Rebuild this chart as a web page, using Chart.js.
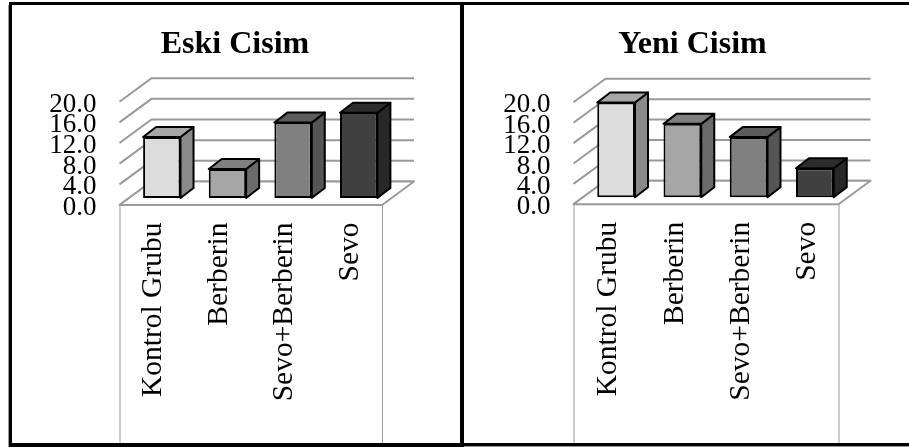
<!DOCTYPE html>
<html>
<head>
<meta charset="utf-8">
<title>Eski Cisim / Yeni Cisim</title>
<script src="https://cdn.jsdelivr.net/npm/chart.js@4/dist/chart.umd.js"></script>
<style>
  html, body { margin: 0; padding: 0; background: #fff; }
  body { width: 909px; height: 447px; position: relative; overflow: hidden; }
  canvas { position: absolute; top: 0; }
  .rule { position: absolute; background: #000; }
</style>
</head>
<body>
<canvas id="eski" style="left:0"></canvas>
<canvas id="yeni" style="left:464px"></canvas>
<div class="rule" style="left:9px;top:2px;width:900px;height:3px"></div>
<div class="rule" style="left:9px;top:2px;width:3px;height:445px"></div>
<div class="rule" style="left:8px;top:5px;width:1px;height:442px;background:#999"></div>
<div class="rule" style="left:460px;top:2px;width:4px;height:445px"></div>
<div class="rule" style="left:9px;top:443px;width:455px;height:4px"></div>
<div class="rule" style="left:464px;top:443px;width:445px;height:3px"></div>
<div class="rule" style="left:464px;top:446px;width:445px;height:1px;background:#999"></div>
<script>
// Category and tick labels
const categoriesEski = ["Kontrol Grubu", "Berberin", "Sevo+Berberin", "Sevo"];
const categoriesYeni = ["Kontrol Grubu", "Berberin", "Sevo+Berberin", "Sevo"];

// Series values
const valuesEski = [11.8, 5.6, 14.6, 16.5];
const valuesYeni = [18.6, 14.4, 11.8, 5.7];

// Fill tones for the three visible faces of each column
const frontColors = ["#dcdcdc", "#a6a6a6", "#808080", "#404040"];
const sideColors  = ["#8a8a8a", "#6b6b6b", "#555555", "#282828"];
const topColors   = ["#a6a6a6", "#808080", "#5c5c5c", "#2c2c2c"];

const GRID = "#9a9a9a";
const SERIF = "'Liberation Serif', 'Times New Roman', serif";

// Oblique projection: the wall/floor depth, and the inset and depth of the columns
const DEPTH = { dx: 32, dy: -23.5 };
const BAR_INSET = { dx: 9.5, dy: -7 };
const BAR_DEPTH = { dx: 13, dy: -10 };

function poly(ctx, pts, fill, stroke, lw) {
  ctx.beginPath();
  pts.forEach((p, i) => i ? ctx.lineTo(p[0], p[1]) : ctx.moveTo(p[0], p[1]));
  ctx.closePath();
  if (fill) { ctx.fillStyle = fill; ctx.fill(); }
  if (stroke) { ctx.strokeStyle = stroke; ctx.lineWidth = lw; ctx.lineJoin = "round"; ctx.stroke(); }
}

// Draws the wall, floor and column sides behind the bars the library renders
const box3d = {
  id: "box3d",
  beforeDatasetsDraw(chart) {
    const { ctx, chartArea: a, scales: { y } } = chart;
    ctx.save();
    ctx.strokeStyle = GRID;
    ctx.lineWidth = 2;
    y.ticks.forEach(t => {
      const py = y.getPixelForValue(t.value);
      ctx.beginPath();
      ctx.moveTo(a.left, py);
      ctx.lineTo(a.left + DEPTH.dx, py + DEPTH.dy);
      ctx.lineTo(a.right + DEPTH.dx, py + DEPTH.dy);
      ctx.stroke();
    });
    // floor outline and the frame lines dropping below it
    poly(ctx, [
      [a.left, a.bottom],
      [a.left + DEPTH.dx, a.bottom + DEPTH.dy],
      [a.right + DEPTH.dx, a.bottom + DEPTH.dy],
      [a.right, a.bottom]
    ], "#ffffff", GRID, 2);
    ctx.lineWidth = 1;
    [a.left, a.right].forEach(x => {
      ctx.beginPath();
      ctx.moveTo(x + 0.5, a.bottom);
      ctx.lineTo(x + 0.5, chart.height);
      ctx.stroke();
    });
    ctx.restore();

    // the library's bars are shifted back onto the floor until afterDatasetsDraw
    ctx.save();
    ctx.translate(BAR_INSET.dx, BAR_INSET.dy);
    chart.getDatasetMeta(0).data.forEach((bar, i) => {
      const l = bar.x - bar.width / 2, r = bar.x + bar.width / 2;
      const t = bar.y, b = bar.base;
      const { dx, dy } = BAR_DEPTH;
      poly(ctx, [[r, t], [r + dx, t + dy], [r + dx, b + dy], [r, b]], sideColors[i], "#000", 2);
      poly(ctx, [[l, t], [l + dx, t + dy], [r + dx, t + dy], [r, t]], topColors[i], "#000", 2);
    });
  },
  afterDatasetsDraw(chart) {
    chart.ctx.restore();
  }
};

function makeChart(id, cfg) {
  const canvas = document.getElementById(id);
  canvas.width = cfg.width;
  canvas.height = 447;
  canvas.style.width = cfg.width + "px";
  canvas.style.height = "447px";
  return new Chart(canvas, {
    type: "bar",
    data: {
      labels: cfg.labels,
      datasets: [{
        data: cfg.values,
        backgroundColor: frontColors,
        borderColor: "#000000",
        borderWidth: 2,
        borderSkipped: false,
        categoryPercentage: 1,
        barPercentage: 0.57,
        clip: false
      }]
    },
    plugins: [box3d],
    options: {
      responsive: false,
      animation: false,
      events: [],
      layout: { padding: { left: cfg.padLeft, right: 0, top: 0, bottom: 0 } },
      plugins: {
        legend: { display: false },
        tooltip: { enabled: false },
        title: {
          display: true,
          text: cfg.title,
          color: "#000",
          font: { family: SERIF, size: 32, weight: "bold", lineHeight: 1.2 },
          padding: { top: 26, bottom: cfg.top - 26 - 38.4 }
        }
      },
      scales: {
        x: {
          grid: { display: false, drawTicks: false },
          border: { display: false },
          ticks: {
            color: "#000",
            font: { family: SERIF, size: 29.5 },
            minRotation: 90,
            maxRotation: 90,
            autoSkip: false,
            padding: 17.5,
            labelOffset: cfg.labelShift
          },
          afterFit(s) { s.height = 447 - cfg.bottom; }
        },
        y: {
          min: 0,
          max: 20,
          grid: { display: false, drawTicks: false },
          border: { display: false },
          ticks: {
            stepSize: 4,
            autoSkip: false,
            color: "#000",
            font: { family: SERIF, size: 27, lineHeight: 1 },
            padding: 23,
            labelOffset: 3,
            callback: v => v.toFixed(1)
          },
          afterFit(s) { s.width = cfg.left - cfg.padLeft; }
        },
        // empty axis that reserves the room on the right for the depth projection
        spacer: {
          position: "right",
          min: 0,
          max: 1,
          grid: { display: false, drawTicks: false },
          border: { display: false },
          ticks: { display: false },
          afterFit(s) { s.width = cfg.width - cfg.right; }
        }
      }
    }
  });
}

makeChart("eski", {
  title: "Eski Cisim", labels: categoriesEski, values: valuesEski,
  width: 460, padLeft: 10, left: 119.5, right: 382, top: 101.7, bottom: 205, labelShift: 1
});
makeChart("yeni", {
  title: "Yeni Cisim", labels: categoriesYeni, values: valuesYeni,
  width: 445, padLeft: 12, left: 109.5, right: 374.5, top: 102.3, bottom: 204.3, labelShift: 2
});
</script>
</body>
</html>
